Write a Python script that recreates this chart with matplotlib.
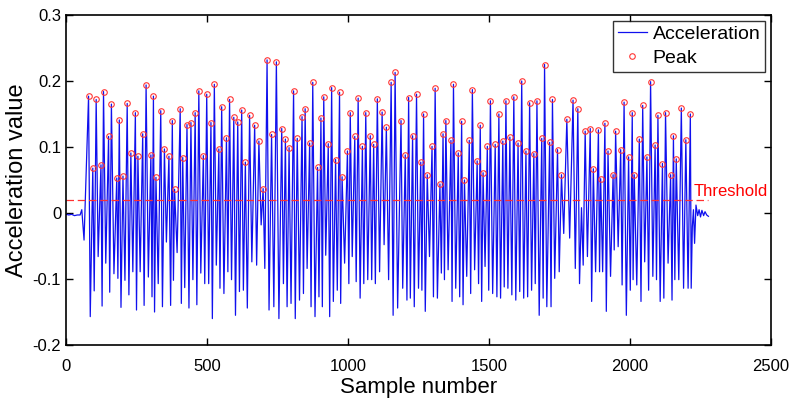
import numpy as np
import matplotlib
matplotlib.use("Agg")
import matplotlib.pyplot as plt

plt.rcParams['font.family'] = ['Liberation Sans', 'DejaVu Sans']
plt.rcParams['axes.unicode_minus'] = False

# quiet part before walking starts
start_x = [1, 10, 20, 30, 40, 50, 56, 64]
start_y = [-0.002, -0.003, -0.002, -0.004, -0.003, -0.003, 0.005, -0.041]

# detected peaks (sample, value)
peak_x = [80, 95, 107, 124, 133, 151, 161, 180, 189, 202, 217, 230, 246, 255, 272, 284, 301,
          310, 319, 336, 349, 365, 377, 385, 405, 414, 429, 443, 458, 471, 487, 499, 514, 526,
          542, 552, 569, 580, 595, 609, 623, 636, 651, 669, 684,
          699, 713, 729, 746, 765, 778, 791, 807, 820, 837, 848, 864, 875, 892, 904, 914, 930,
          942, 956, 970, 979, 998, 1008, 1024, 1036, 1051, 1063, 1079, 1091,
          1104, 1121, 1136, 1153, 1167, 1188, 1203, 1215, 1229, 1243, 1258, 1268, 1281, 1298,
          1309, 1326, 1337, 1347, 1365, 1374, 1391, 1403, 1413, 1430, 1441, 1458, 1469, 1479,
          1494, 1505, 1522, 1535, 1549, 1560, 1574, 1588, 1603, 1616, 1631, 1644, 1659, 1670,
          1687, 1697, 1715, 1725, 1743, 1757, 1776, 1798, 1815, 1841, 1859, 1870, 1888,
          1896, 1911, 1922, 1940, 1949, 1967, 1979, 1995, 2008, 2015, 2033, 2045, 2060, 2073,
          2089, 2099, 2115, 2126, 2144, 2154, 2164, 2182, 2198, 2214]
peak_y = [0.177, 0.068, 0.172, 0.073, 0.184, 0.116, 0.165, 0.053, 0.141, 0.056, 0.166, 0.091,
          0.152, 0.086, 0.120, 0.194, 0.088,
          0.177, 0.054, 0.155, 0.097, 0.086, 0.140, 0.036, 0.158, 0.084, 0.134, 0.137, 0.152,
          0.185, 0.087, 0.180, 0.137, 0.195, 0.097, 0.161, 0.114, 0.172, 0.145, 0.138, 0.156,
          0.077, 0.148, 0.133, 0.109,
          0.037, 0.232, 0.119, 0.229, 0.128, 0.112, 0.099, 0.185, 0.113, 0.146, 0.158, 0.106,
          0.198, 0.069, 0.144, 0.176, 0.105, 0.190, 0.081, 0.183, 0.055, 0.094, 0.152, 0.116,
          0.174, 0.101, 0.152, 0.117, 0.104,
          0.173, 0.153, 0.130, 0.198, 0.213, 0.140, 0.088, 0.175, 0.117, 0.180, 0.077, 0.150,
          0.058, 0.101, 0.189, 0.044, 0.120, 0.140, 0.110, 0.195, 0.091, 0.139, 0.050, 0.110,
          0.187, 0.079, 0.133, 0.061,
          0.101, 0.170, 0.104, 0.150, 0.109, 0.170, 0.115, 0.176, 0.106, 0.200, 0.094, 0.167,
          0.090, 0.170, 0.113, 0.225, 0.107, 0.172, 0.096, 0.058, 0.142, 0.171, 0.158, 0.124,
          0.128, 0.067, 0.126,
          0.052, 0.136, 0.094, 0.058, 0.124, 0.096, 0.168, 0.085, 0.152, 0.058, 0.112, 0.163,
          0.085, 0.199, 0.103, 0.148, 0.075, 0.152, 0.058, 0.117, 0.082, 0.159, 0.111, 0.150]

# valleys after each peak
valley_x = [86, 100, 114, 128, 141, 155, 170, 184, 195, 209, 223, 237, 250, 263, 277, 292, 305,
            314, 327, 342, 356, 371, 381, 394, 409, 421, 436, 450, 464, 478, 492, 506, 519, 533,
            546, 560, 574, 587, 601, 615, 629, 643, 659, 676, 692,
            705, 720, 737, 755, 771, 784, 798, 813, 828, 842, 855, 869, 883, 897, 909, 921, 935,
            948, 962, 974, 988, 1003, 1015, 1029, 1043, 1056, 1070, 1084, 1097,
            1112, 1128, 1144, 1160, 1176, 1194, 1209, 1221, 1235, 1250, 1262, 1274, 1289, 1303,
            1317, 1331, 1342, 1355, 1369, 1382, 1396, 1408, 1421, 1435, 1449, 1463, 1474, 1486,
            1499, 1513, 1528, 1541, 1554, 1567, 1581, 1595, 1609, 1623, 1637, 1651, 1664, 1678,
            1692, 1705, 1720, 1733, 1749, 1765, 1786, 1806, 1821, 1849, 1864, 1878, 1892,
            1903, 1916, 1931, 1944, 1958, 1972, 1987, 2001, 2011, 2024, 2039, 2052, 2066, 2081,
            2094, 2107, 2120, 2135, 2149, 2159, 2173, 2190, 2206, 2217]
valley_y = [-0.157, -0.118, -0.066, -0.141, -0.076, -0.120, -0.092, -0.099, -0.143, -0.102,
            -0.124, -0.089, -0.147, -0.089, -0.140, -0.097, -0.127,
            -0.150, -0.107, -0.142, -0.044, -0.140, -0.102, -0.060, -0.137, -0.113, -0.144,
            -0.101, -0.139, -0.091, -0.107, -0.107, -0.160, -0.079, -0.114, -0.122, -0.089,
            -0.101, -0.155, -0.119, -0.117, -0.144, -0.074, -0.079, -0.018,
            -0.084, -0.147, -0.142, -0.160, -0.107, -0.142, -0.137, -0.160, -0.132, -0.122,
            -0.084, -0.142, -0.157, -0.127, -0.142, -0.064, -0.157, -0.134, -0.117, -0.137,
            -0.076, -0.107, -0.066, -0.104, -0.129, -0.107, -0.101, -0.101, -0.107,
            -0.089, -0.048, -0.101, -0.155, -0.144, -0.114, -0.132, -0.129, -0.142, -0.114,
            -0.117, -0.149, -0.066, -0.127, -0.129, -0.091, -0.101, -0.086, -0.134, -0.114,
            -0.127, -0.139, -0.096, -0.122, -0.086, -0.107, -0.134, -0.081,
            -0.117, -0.122, -0.127, -0.129, -0.112, -0.114, -0.124, -0.132, -0.119, -0.129,
            -0.127, -0.117, -0.107, -0.155, -0.129, -0.142, -0.142, -0.099, -0.089, -0.031,
            -0.038, -0.084, -0.107, -0.066, -0.134, -0.089, -0.089,
            -0.089, -0.149, -0.096, -0.056, -0.051, -0.109, -0.155, -0.117, -0.101, -0.109,
            -0.134, -0.074, -0.117, -0.096, -0.101, -0.134, -0.129, -0.076, -0.132, -0.101,
            -0.101, -0.114, -0.114, -0.114]

# small bump below threshold
extra_x = [1828, 1834]
extra_y = [0.008, -0.079]

# standing still again at the end
tail_x = [2221, 2225, 2229, 2234, 2240, 2245, 2250, 2255, 2261, 2266, 2272, 2278]
tail_y = [-0.021, 0.005, -0.046, 0.012, -0.004, 0.005, -0.006, 0.004, -0.004, 0.002, -0.003, -0.005]

threshold = 0.02
thr_end = 2278

x = np.concatenate([start_x, peak_x, valley_x, extra_x, tail_x])
y = np.concatenate([start_y, peak_y, valley_y, extra_y, tail_y])
order = np.argsort(x, kind='stable')
x = x[order]
y = y[order]

fig = plt.figure(figsize=(7.94, 4.08), dpi=100)
ax = fig.add_axes([66/794, 1-345/408, 705/794, 330/408])

ax.plot(x, y, color='#1010ee', lw=0.9, label='Acceleration')
ax.plot(peak_x, peak_y, 'o', mfc='none', mec='#ff3535', ms=4, mew=0.8, label='Peak')
ax.plot([0, thr_end], [threshold, threshold], color='#ff3030', lw=0.9, dashes=(6, 3))
ax.text(2224, 0.026, 'Threshold', color='red', fontsize=12, va='baseline', ha='left')

ax.set_xlim(0, 2500)
ax.set_ylim(-0.2, 0.3)
ax.set_xticks([0, 500, 1000, 1500, 2000, 2500])
ax.set_yticks([-0.2, -0.1, 0, 0.1, 0.2, 0.3])
ax.set_yticklabels(['-0.2', '-0.1', '0', '0.1', '0.2', '0.3'])
ax.tick_params(direction='in', top=True, right=True, length=5, width=1, labelsize=12)
ax.tick_params(axis='x', pad=10)
for s in ax.spines.values():
    s.set_linewidth(1.2)

ax.set_xlabel('Sample number', fontsize=16, labelpad=2)
ax.set_ylabel('Acceleration value', fontsize=17)
ax.yaxis.set_label_coords(-0.054, 0.5)

leg = ax.legend(loc='upper right', fontsize=14, frameon=True, fancybox=False,
                borderpad=0.25, labelspacing=0.3, handlelength=1.5, handletextpad=0.3,
                borderaxespad=0.3)
leg.get_frame().set_edgecolor('black')
leg.get_frame().set_linewidth(1.0)

fig.savefig('out.png', dpi=100)
